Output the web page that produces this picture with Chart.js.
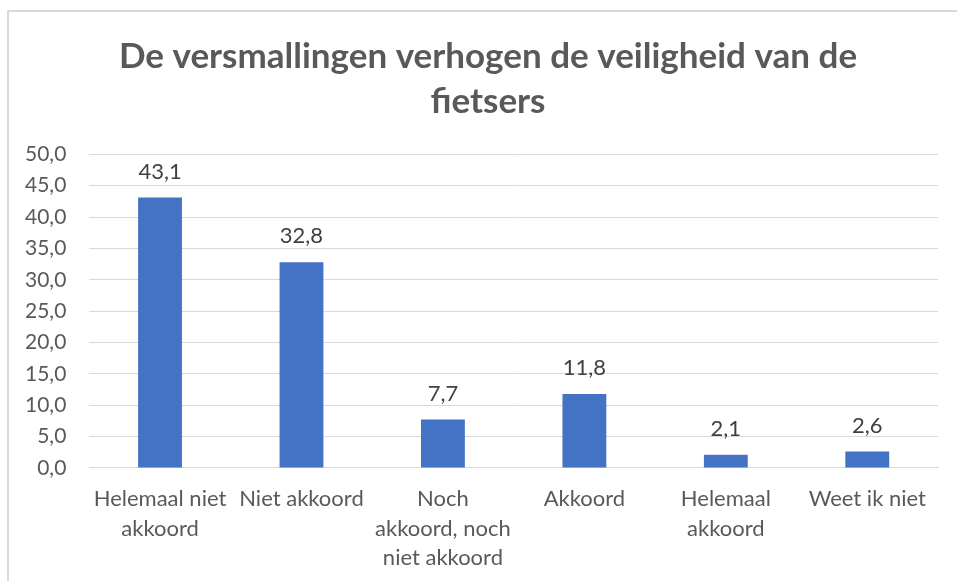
<!DOCTYPE html>
<html>
<head>
<meta charset="utf-8">
<script src="https://cdn.jsdelivr.net/npm/chart.js@4"></script>
<style>
  body { margin: 0; background: #fff; }
  #wrap { position: relative; width: 957px; height: 581px; }
  #frame { position: absolute; left: 7px; top: 10px; right: 0; bottom: 0;
           border-left: 2px solid #d9d9d9; border-top: 2px solid #d9d9d9; pointer-events: none; }
</style>
</head>
<body>
<div id="wrap">
  <canvas id="chart" width="957" height="581"></canvas>
  <div id="frame"></div>
</div>
<script>
// Chart data
var categories = [
    ['Helemaal niet', 'akkoord'],
    'Niet akkoord',
    ['Noch', 'akkoord, noch', 'niet akkoord'],
    'Akkoord',
    ['Helemaal', 'akkoord'],
    'Weet ik niet'
];
var percentages = [43.1, 32.8, 7.7, 11.8, 2.1, 2.6];
var titleLines = ['De versmallingen verhogen de veiligheid van de', 'fietsers'];

function comma(v) {
    return Number(v).toFixed(1).replace('.', ',');
}

// Draw the value above each bar
var valueLabels = {
    id: 'valueLabels',
    afterDatasetsDraw: function(chart) {
        var ctx = chart.ctx;
        var meta = chart.getDatasetMeta(0);
        ctx.save();
        ctx.font = '22px Lato';
        ctx.fillStyle = '#404040';
        ctx.textAlign = 'center';
        ctx.textBaseline = 'bottom';
        meta.data.forEach(function(bar, i) {
            ctx.fillText(comma(percentages[i]), bar.x, bar.y - 15);
        });
        ctx.restore();
    }
};

// The title in the original sits a bit right of the canvas centre
var shiftTitle = {
    id: 'shiftTitle',
    afterLayout: function(chart) {
        if (chart.titleBlock) {
            chart.titleBlock.left += 18;
            chart.titleBlock.right += 18;
        }
    }
};

var ctx = document.getElementById('chart').getContext('2d');
new Chart(ctx, {
    type: 'bar',
    data: {
        labels: categories,
        datasets: [{
            data: percentages,
            backgroundColor: '#4472c4',
            barPercentage: 0.31,
            categoryPercentage: 1
        }]
    },
    options: {
        responsive: false,
        animation: false,
        layout: { padding: { top: 34, right: 19, bottom: 0, left: 2 } },
        plugins: {
            legend: { display: false },
            tooltip: { enabled: false },
            title: {
                display: true,
                text: titleLines,
                color: '#595959',
                font: { family: 'Lato', size: 35, weight: 'bold', lineHeight: 1.29 },
                padding: { top: 0, bottom: 30 }
            }
        },
        scales: {
            x: {
                grid: { display: false },
                border: { color: '#d9d9d9' },
                ticks: {
                    color: '#595959',
                    font: { family: 'Lato', size: 22, lineHeight: 1.35 },
                    maxRotation: 0,
                    autoSkip: false,
                    padding: 8
                }
            },
            y: {
                min: 0,
                max: 50,
                border: { display: false },
                grid: { color: '#d9d9d9', drawTicks: false },
                ticks: {
                    stepSize: 5,
                    color: '#595959',
                    font: { family: 'Lato', size: 21 },
                    padding: 23,
                    callback: function(v) { return comma(v); }
                }
            }
        }
    },
    plugins: [valueLabels, shiftTitle]
});
</script>
</body>
</html>
